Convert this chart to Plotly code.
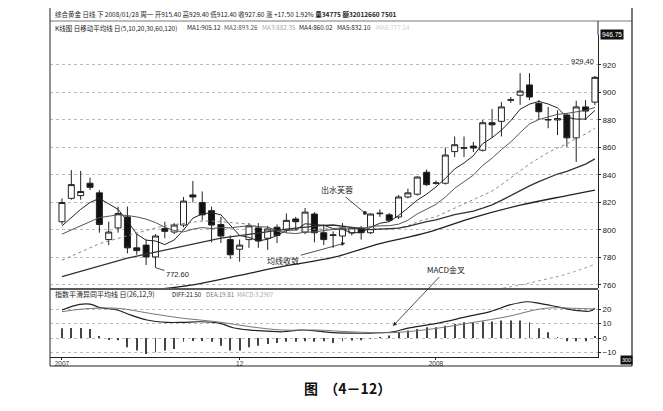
import plotly.graph_objects as go

# ---------------- data ----------------
idx = list(range(1, 59))
opens = [806, 823, 825, 834, 827, 793, 801.5, 809.5, 787, 789,
         780.4, 801, 798.5, 803.6, 825.5, 820, 814, 804, 793, 786,
         793, 801.5, 794, 802, 800, 808, 798.5, 811.6, 798, 796,
         795.6, 797.8, 801.5, 798, 811.8, 811, 809.5, 824, 826, 842,
         834, 834, 857, 859.4, 861, 858, 878, 879, 894.3, 898,
         905.5, 892, 880, 880, 883.6, 867, 889.5, 893]
highs = [823, 843.6, 843, 838, 829, 806, 817, 817, 798, 793,
         797, 806, 805, 824, 835.6, 828, 817, 809.5, 796, 793,
         805, 805, 803, 804, 812, 809.5, 816, 813, 804, 799,
         805, 802, 803, 812, 815, 812.4, 825.5, 830, 839, 844,
         836, 860, 868, 868, 864, 880, 888, 893, 896.7, 914,
         914, 894.5, 889.5, 887, 885, 894, 894.5, 912]
lows = [804, 822, 822, 829, 798, 789, 798, 783, 782, 774.5,
        772.6, 794, 797, 802, 820, 807, 791, 790.5, 779, 777,
        787, 787, 785.5, 790.5, 798, 800, 797, 791, 789, 787,
        789, 796, 793, 797, 809.5, 805.8, 808, 823, 825, 832,
        833, 833, 853, 853, 856.7, 857, 867, 868, 892.4, 891,
        894.5, 880, 874, 869, 860.4, 849.5, 880, 891]
closes = [820, 833, 828, 831, 804, 798.5, 812, 787, 785, 780.4,
          795.6, 799, 803.6, 821, 824, 811, 803.6, 795.6, 782, 789,
          803, 792, 800.7, 796, 807, 806, 813, 798, 793, 796.4,
          801.5, 801.5, 798, 811.6, 812.2, 807, 824, 827, 838.5, 833,
          834.2, 854.5, 862, 859.8, 859.6, 878, 876.5, 889.5, 894.7, 901,
          896.7, 886, 880.3, 881, 867, 889.5, 886.5, 911]

ma1 = [803, 809, 815, 820, 823, 819, 815, 806.5, 797, 792.6,
       792, 789.4, 792.7, 800, 808.6, 811.7, 812.6, 811, 803.2, 796,
       794.6, 792, 793.3, 796, 799.7, 800, 804.5, 804, 803.4, 801,
       800.4, 798, 798.1, 801.8, 804.9, 806, 810.5, 816, 821.7, 826,
       831.3, 837.4, 844.4, 848.7, 854, 862.8, 867.1, 872.6, 879.5, 887.8,
       891.5, 893.5, 891.6, 888.8, 882, 880.6, 880.7, 886.9]
ma2 = [797, 800, 803, 806, 809, 810, 811, 810.5, 809.5, 807.9,
       805.4, 802, 799.6, 798.6, 800.6, 801.8, 801, 801.8, 801.5, 802.4,
       803.1, 802.4, 802.1, 799.6, 797.9, 797.4, 798.3, 798.6, 799.7, 800.4,
       800.3, 801.2, 800.9, 802.5, 803, 803.1, 804.2, 807.1, 811.7, 815.3,
       818.6, 823.9, 830.3, 835.1, 839.9, 847, 852.2, 858.4, 864, 870.8,
       877.1, 880.3, 882.1, 884.1, 884.8, 886, 887, 889.1]
ma3 = [778, 781, 784, 787, 790, 792, 794, 796, 798, 800,
       801.5, 803, 804, 805, 806, 806.5, 806.5, 806, 805.5, 805.2,
       804.3, 802.3, 800.9, 799.2, 799.3, 799.7, 799.8, 800.3, 800.7, 801.5,
       801.8, 801.9, 801.6, 801.2, 800.6, 800.4, 801.4, 803, 805.8, 808,
       809.6, 812.7, 815.8, 819, 821.6, 825.2, 828.3, 832.9, 838, 843.2,
       848, 852.2, 856.3, 859.7, 862.5, 866.6, 869.8, 874]
ma4 = [766, 768, 770, 772, 774, 776, 778, 779.5, 781, 782.5,
       784, 785.5, 787, 788.5, 790, 791.5, 793, 794, 795, 796,
       797, 798, 799, 799.8, 800.6, 801.4, 802.2, 802.8, 803.3, 803.6,
       803, 801.9, 800.9, 800.3, 800.6, 800.9, 801.3, 802.6, 804.4, 806.1,
       807.4, 809.3, 811.2, 812.5, 813.7, 815.9, 818.3, 821.5, 825.2, 829,
       832.1, 835.2, 837.9, 840.7, 842.7, 845.5, 847.9, 851.7]
ma5_x = [1, 5, 10, 15, 20, 25, 30, 35, 40, 45, 50, 55, 58]
ma5 = [750, 753, 756, 760, 767, 774, 780, 790, 798, 809, 818, 825, 829]
ma6_x = [45, 50, 52, 55, 58]
ma6 = [754, 760, 763, 768, 775]

diff_x = [1, 2.9, 4, 5.1, 6.9, 8.3, 10.1, 12.2, 13.9, 15.8, 17.9, 19.3, 21.1,
          22.9, 24.6, 26.5, 28.3, 30, 32, 34, 36.4, 37.9, 41.1, 44.3, 46.8,
          48.9, 50.7, 52.1, 53.9, 55.6, 57.5, 58]
diff = [19.3, 23.2, 23.4, 20.9, 19.3, 15.9, 12.4, 10.8, 10.8, 11.2, 10.1, 7.1, 5.5,
        4.8, 4.3, 5.5, 4.8, 3.7, 3.3, 3.4, 4.3, 6.7, 10.1, 14.7, 18.2,
        22.8, 25, 23.9, 21.6, 19.3, 18.6, 20.5]
dea_x = [1, 3.2, 6.9, 10.4, 13.9, 17.6, 21.1, 24.6, 28.3, 31.8, 36.4, 41.1,
         45, 48.6, 52.1, 53.9, 55.6, 58]
dea = [18.1, 20, 20.5, 17, 13.6, 11.2, 7.8, 5.5, 5.5, 4.3, 3.7, 6.7,
       10.8, 14.7, 20, 20.9, 20.5, 20]
macd_hist = [6.7, 6.9, 6.9, 6.2, 1.2, -1.2, -1.5, -6.4, -8.7, -11,
             -9.9, -8.7, -7.6, -2.5, -2, -2, -2.5, -5.3, -8.7, -8.7,
             -6.4, -5.3, -4.1, -3.4, -2.5, -2.5, -2.3, -2.5, -2.3, -3.4,
             -2.3, -1.8, -1.5, -0.6, 0.6, 1.8, 3.9, 5.1, 6.2, 7.4,
             7.4, 8.5, 9.7, 10.8, 10.8, 11.3, 11.3, 12, 12, 12,
             10.8, 6.7, 3.9, 0.5, -2.3, -2.3, -2.3, 0.8]

price_ticks = [760, 780, 800, 820, 840, 860, 880, 900, 920]
macd_ticks = [-10, 0, 10, 20]
date_tickvals = [1, 20, 41]
date_ticktext = ["2007", "12", "2008"]

CJK = "Noto Sans CJK SC"
INK = "#222222"

fig = go.Figure()

fig.add_trace(go.Candlestick(
    x=idx, open=opens, high=highs, low=lows, close=closes,
    increasing=dict(line=dict(color=INK, width=1), fillcolor="white"),
    decreasing=dict(line=dict(color=INK, width=1), fillcolor="#111111"),
    whiskerwidth=0, showlegend=False, hoverinfo="skip",
    xaxis="x", yaxis="y"))

fig.add_trace(go.Scatter(x=idx, y=ma1, mode="lines", line=dict(color="#222", width=1),
                         showlegend=False, xaxis="x", yaxis="y"))
fig.add_trace(go.Scatter(x=idx, y=ma2, mode="lines", line=dict(color="#555", width=1),
                         showlegend=False, xaxis="x", yaxis="y"))
fig.add_trace(go.Scatter(x=idx, y=ma3, mode="lines", line=dict(color="#888", width=1, dash="dot"),
                         showlegend=False, xaxis="x", yaxis="y"))
fig.add_trace(go.Scatter(x=idx, y=ma4, mode="lines", line=dict(color="#333", width=1.3),
                         showlegend=False, xaxis="x", yaxis="y"))
fig.add_trace(go.Scatter(x=ma5_x, y=ma5, mode="lines", line=dict(color="#222", width=1.3, shape="spline"),
                         showlegend=False, xaxis="x", yaxis="y"))
fig.add_trace(go.Scatter(x=ma6_x, y=ma6, mode="lines", line=dict(color="#999", width=1, dash="dot", shape="spline"),
                         showlegend=False, xaxis="x", yaxis="y"))

fig.add_trace(go.Bar(x=idx, y=macd_hist, width=0.1, marker=dict(color="#444", line=dict(width=0)),
                     showlegend=False, xaxis="x2", yaxis="y2"))
fig.add_trace(go.Scatter(x=diff_x, y=diff, mode="lines", line=dict(color="#222", width=1.2, shape="spline"),
                         showlegend=False, xaxis="x2", yaxis="y2"))
fig.add_trace(go.Scatter(x=dea_x, y=dea, mode="lines", line=dict(color="#777", width=1, shape="spline"),
                         showlegend=False, xaxis="x2", yaxis="y2"))

# The page puts the figure 8px in from the top-left corner, so the figure is
# 8px smaller and all placements below use the reference picture's pixels.
OFF = 8
W, H = 663 - OFF, 411 - OFF
L, R, T, B = 50 - OFF, 65, 35 - OFF, 54
pw, ph = W - L - R, H - T - B


def px(x):
    return (x - 50) / pw


def py(y):
    return (357 - y) / ph


xr = [-0.28, 58.33]
fig.update_layout(
    width=W, height=H, margin=dict(l=L, r=R, t=T, b=B),
    paper_bgcolor="white", plot_bgcolor="white",
    boxgap=0.36, boxgroupgap=0,
    xaxis=dict(domain=[0, 1], range=xr, anchor="y", showticklabels=False, showgrid=False,
               zeroline=False, rangeslider=dict(visible=False), showline=False),
    yaxis=dict(domain=[py(288), 1], range=[757.8, 941.8], side="right", tickvals=price_ticks,
               ticks="outside", ticklen=2, tickcolor=INK, showline=True, linecolor=INK, linewidth=1,
               showgrid=True, gridcolor="#bbbbbb", griddash="dot", gridwidth=1, zeroline=False,
               tickfont=dict(family="Liberation Sans", size=8, color=INK), anchor="x"),
    xaxis2=dict(domain=[0, 1], range=xr, anchor="y2", tickvals=date_tickvals, ticktext=date_ticktext,
                ticks="outside", ticklen=2, tickcolor=INK, showline=True, linecolor=INK,
                showgrid=False, zeroline=False, ticklabelstandoff=-2,
                tickfont=dict(family="Liberation Sans", size=6.5, color="#333")),
    yaxis2=dict(domain=[0, py(290)], range=[-13.1, 33.1], side="right", tickvals=macd_ticks,
                ticks="outside", ticklen=2, tickcolor=INK, showline=True, linecolor=INK,
                showgrid=True, gridcolor="#bbbbbb", griddash="dot", zeroline=False,
                tickfont=dict(family="Liberation Sans", size=8, color=INK), anchor="x2"),
    showlegend=False,
)

shapes = []


def hline(y, x0, x1, w=1, c=INK):
    shapes.append(dict(type="line", xref="paper", yref="paper", x0=px(x0), x1=px(x1),
                       y0=py(y), y1=py(y), line=dict(color=c, width=w)))


def vline(x, y0, y1, w=1, c=INK):
    shapes.append(dict(type="line", xref="paper", yref="paper", x0=px(x), x1=px(x),
                       y0=py(y0), y1=py(y1), line=dict(color=c, width=w)))


hline(4, 50, 632)
hline(21, 50, 632, 0.8, "#555")
hline(289, 50, 598, 1.5)
hline(366, 50, 632)
vline(50, 4, 366)
vline(632, 4, 366, 1.2)
vline(598, 21, 35)
fig.update_layout(shapes=shapes)

ann = []


def text(x, y, s, size=6.5, color=INK, xanchor="left", family=CJK, **kw):
    ann.append(dict(xref="paper", yref="paper", x=px(x), y=py(y), text=s, showarrow=False,
                    xanchor=xanchor, yanchor="middle",
                    font=dict(family=family, size=size, color=color), **kw))


text(53, 14, "综合黄金 日线 下 2008/01/28 周一 开915.40 高929.40 低912.40 收927.60 涨 +17.50 1.92% "
     "<b>量34775 额32012660 7501</b>", size=6.5)
text(53, 28, "K线图 日移动平均线 日(5,10,20,30,60,120)", size=6.5)
text(185, 28, "MA1:905.12", size=6.3, color="#222")
text(222, 28, "MA2:893.26", size=6.3, color="#555")
text(260, 28, "MA3:882.35", size=6.3, color="#aaa")
text(297, 28, "MA4:860.02", size=6.3, color="#222")
text(335, 28, "MA5:832.10", size=6.3, color="#222")
text(374, 28, "MA6:777.14", size=6.3, color="#cfcfcf")
text(53, 294, "指数平滑异同平均线 日(26,12,9)", size=7)
text(170, 294, "DIFF:21.50", size=6, color="#222")
text(204, 294, "DEA:19.81", size=6, color="#777")
text(235, 294, "MACD:3.2907", size=6, color="#aaa")
text(600, 34, "946.75", size=6.5, color="white", family="Liberation Sans", bgcolor="#111", borderpad=1)
text(620, 360, "300", size=5.5, color="white", family="Liberation Sans", bgcolor="#111", borderpad=1)
ann.append(dict(xref="paper", yref="paper", x=px(347), y=py(388), text="<b>图  （4－12）</b>",
                showarrow=False, xanchor="center", yanchor="middle",
                font=dict(family=CJK, size=14, color="#111")))

# chart annotations in data coordinates
ann.append(dict(xref="x", yref="y", x=58.1, y=927, text="929.40", showarrow=False,
                xanchor="right", yanchor="top", font=dict(family="Liberation Sans", size=7.5, color=INK)))
ann.append(dict(xref="x", yref="y", x=11, y=772.6, text="772.60", showarrow=True, arrowhead=0,
                arrowwidth=0.8, arrowcolor=INK, ax=22, ay=7,
                font=dict(family="Liberation Sans", size=7.5, color=INK)))
ann.append(dict(xref="x", yref="y", x=33.4, y=812.4, text="出水芙蓉", showarrow=True, arrowhead=6,
                arrowsize=1.2, arrowwidth=0.8, arrowcolor=INK, ax=-28, ay=-23,
                font=dict(family=CJK, size=8, color=INK)))
ann.append(dict(xref="x", yref="y", x=31.3, y=790.5, text="均线收敛", showarrow=True, arrowhead=2,
                arrowsize=1, arrowwidth=0.8, arrowcolor=INK, ax=-62, ay=17,
                font=dict(family=CJK, size=8, color=INK)))
ann.append(dict(xref="x2", yref="y2", x=36.4, y=8.3, text="MACD金叉", showarrow=True, arrowhead=2,
                arrowsize=1, arrowwidth=0.8, arrowcolor=INK, ax=53, ay=-56,
                font=dict(family=CJK, size=8, color=INK)))
fig.update_layout(annotations=ann)

fig.write_html("out.html")
